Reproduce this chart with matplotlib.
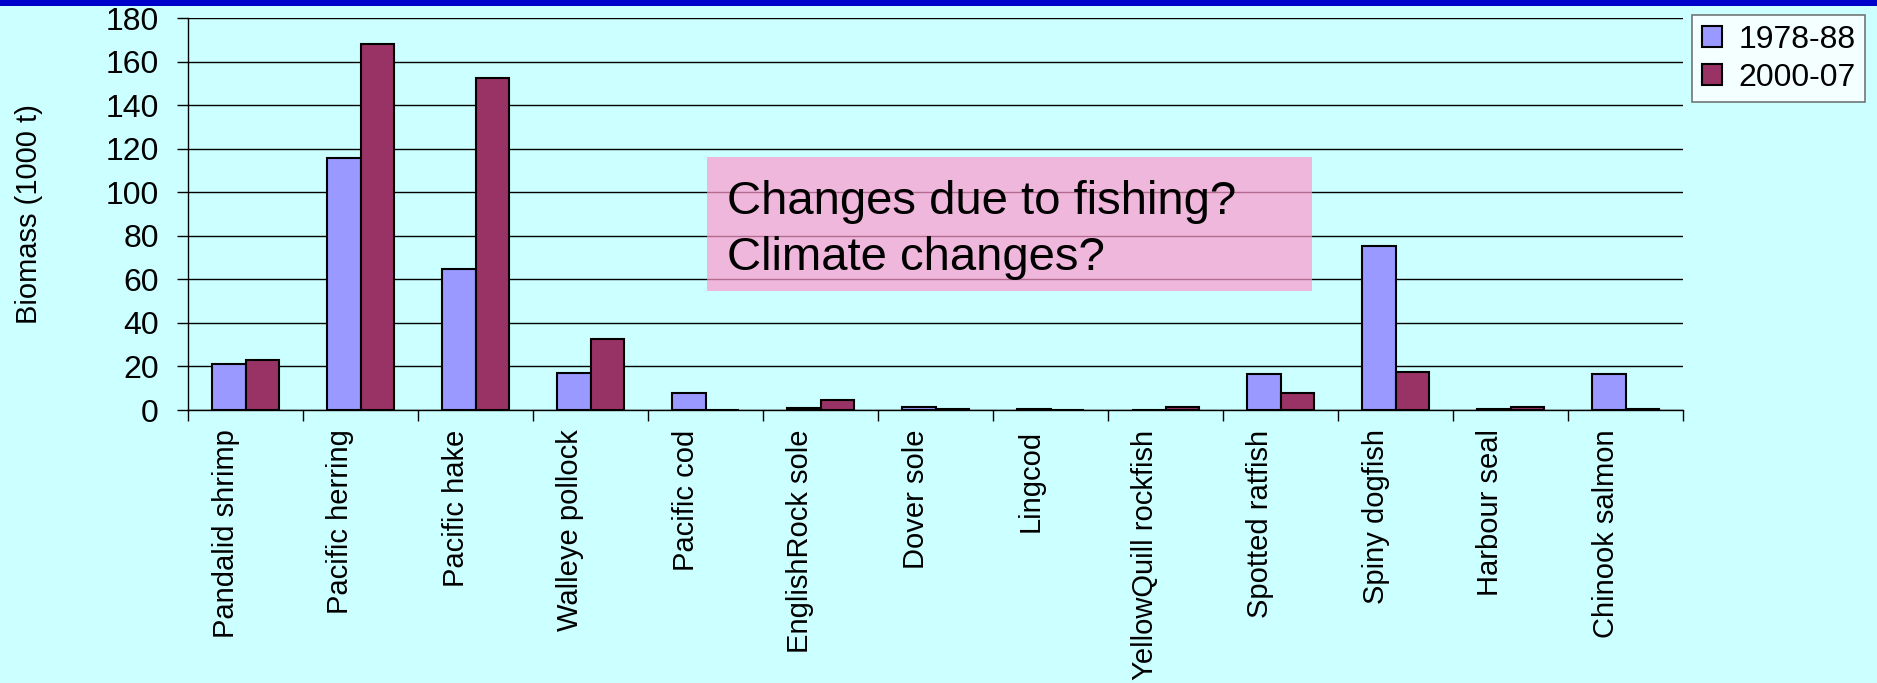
import numpy as np
import matplotlib
matplotlib.use("Agg")
import matplotlib.pyplot as plt
from matplotlib.patches import Patch, Rectangle
from matplotlib.transforms import ScaledTranslation

plt.rcParams["font.family"] = ["Liberation Sans", "DejaVu Sans"]

# data (biomass, 1000 t)
species = [
    "Pandalid shrimp", "Pacific herring", "Pacific hake", "Walleye pollock",
    "Pacific cod", "EnglishRock sole", "Dover sole", "Lingcod",
    "YellowQuill rockfish", "Spotted ratfish", "Spiny dogfish",
    "Harbour seal", "Chinook salmon",
]
period_labels = ["1978-88", "2000-07"]
biomass_1978_88 = [21.2, 115.8, 64.8, 17.0, 7.7, 1.0, 1.6, 0.6, 0.0, 16.5, 75.2, 0.6, 16.5]
biomass_2000_07 = [22.9, 168.0, 152.6, 32.4, 0.0, 4.4, 0.6, 0.0, 1.5, 7.8, 17.4, 1.5, 0.6]
y_ticks = list(range(0, 181, 20))

BG = "#CCFFFF"
C1 = "#9999FF"
C2 = "#993366"

fig = plt.figure(figsize=(18.77, 6.83), dpi=100, facecolor=BG)
ax = fig.add_axes([188 / 1877, 1 - 410 / 683, 1495 / 1877, 392 / 683])
ax.set_facecolor(BG)

# dark band along the top edge
fig.patches.append(Rectangle((0, 1 - 6 / 683), 1, 6 / 683, transform=fig.transFigure,
                             facecolor="#0000CC", edgecolor="none"))

x = np.arange(len(species))
w = 0.29
ax.bar(x - w / 2, biomass_1978_88, width=w, color=C1, edgecolor="black", linewidth=1.5,
       label=period_labels[0], zorder=3)
ax.bar(x + w / 2, biomass_2000_07, width=w, color=C2, edgecolor="black", linewidth=1.5,
       label=period_labels[1], zorder=3)

ax.set_xlim(-0.5, len(species) - 0.5)
ax.set_ylim(0, 180)
ax.set_yticks(y_ticks)
ax.yaxis.grid(True, color="black", linewidth=1)
ax.set_axisbelow(True)
ax.tick_params(axis="y", length=8, width=1, pad=13, labelsize=23, colors="black")

ax.set_xticks(x)
ax.set_xticklabels(species, rotation=90, fontsize=21)
ax.set_xticks(np.arange(len(species) + 1) - 0.5, minor=True)
ax.tick_params(axis="x", which="major", length=0, pad=14)
ax.tick_params(axis="x", which="minor", length=8, width=1, direction="out")
off = ScaledTranslation(-20 / 100, 0, fig.dpi_scale_trans)
for lab in ax.get_xticklabels():
    lab.set_transform(lab.get_transform() + off)

for side in ("top", "right"):
    ax.spines[side].set_visible(False)
ax.spines["left"].set_linewidth(1)
ax.spines["bottom"].set_linewidth(1)

ax.set_ylabel("Biomass (1000 t)", fontsize=21)
ax.yaxis.set_label_coords(-0.097, 0.5)

# annotation box
ax.add_patch(Rectangle((0.347, 0.304), 0.405, 0.341, transform=ax.transAxes,
                       facecolor="#FF99CC", alpha=0.7, edgecolor="none", zorder=5,
                       clip_on=False))
ax.text(0.3605, 0.5, "Changes due to fishing?", transform=ax.transAxes, fontsize=34,
        va="baseline", ha="left", zorder=6)
ax.text(0.3605, 0.357, "Climate changes?", transform=ax.transAxes, fontsize=34,
        va="baseline", ha="left", zorder=6)

handles = [Patch(facecolor=C1, edgecolor="black", linewidth=1.5),
           Patch(facecolor=C2, edgecolor="black", linewidth=1.5)]
leg = fig.legend(handles, period_labels, loc="upper left",
                 bbox_to_anchor=(1692 / 1877, 1 - 15 / 683), fontsize=23,
                 frameon=True, fancybox=False, edgecolor="#555555",
                 handlelength=0.65, handleheight=0.65, handletextpad=0.5,
                 borderpad=0.3, labelspacing=0.25, borderaxespad=0)
leg.get_frame().set_linewidth(1.2)
leg.get_frame().set_facecolor("white")

fig.savefig("out.png", dpi=100, facecolor=BG)
